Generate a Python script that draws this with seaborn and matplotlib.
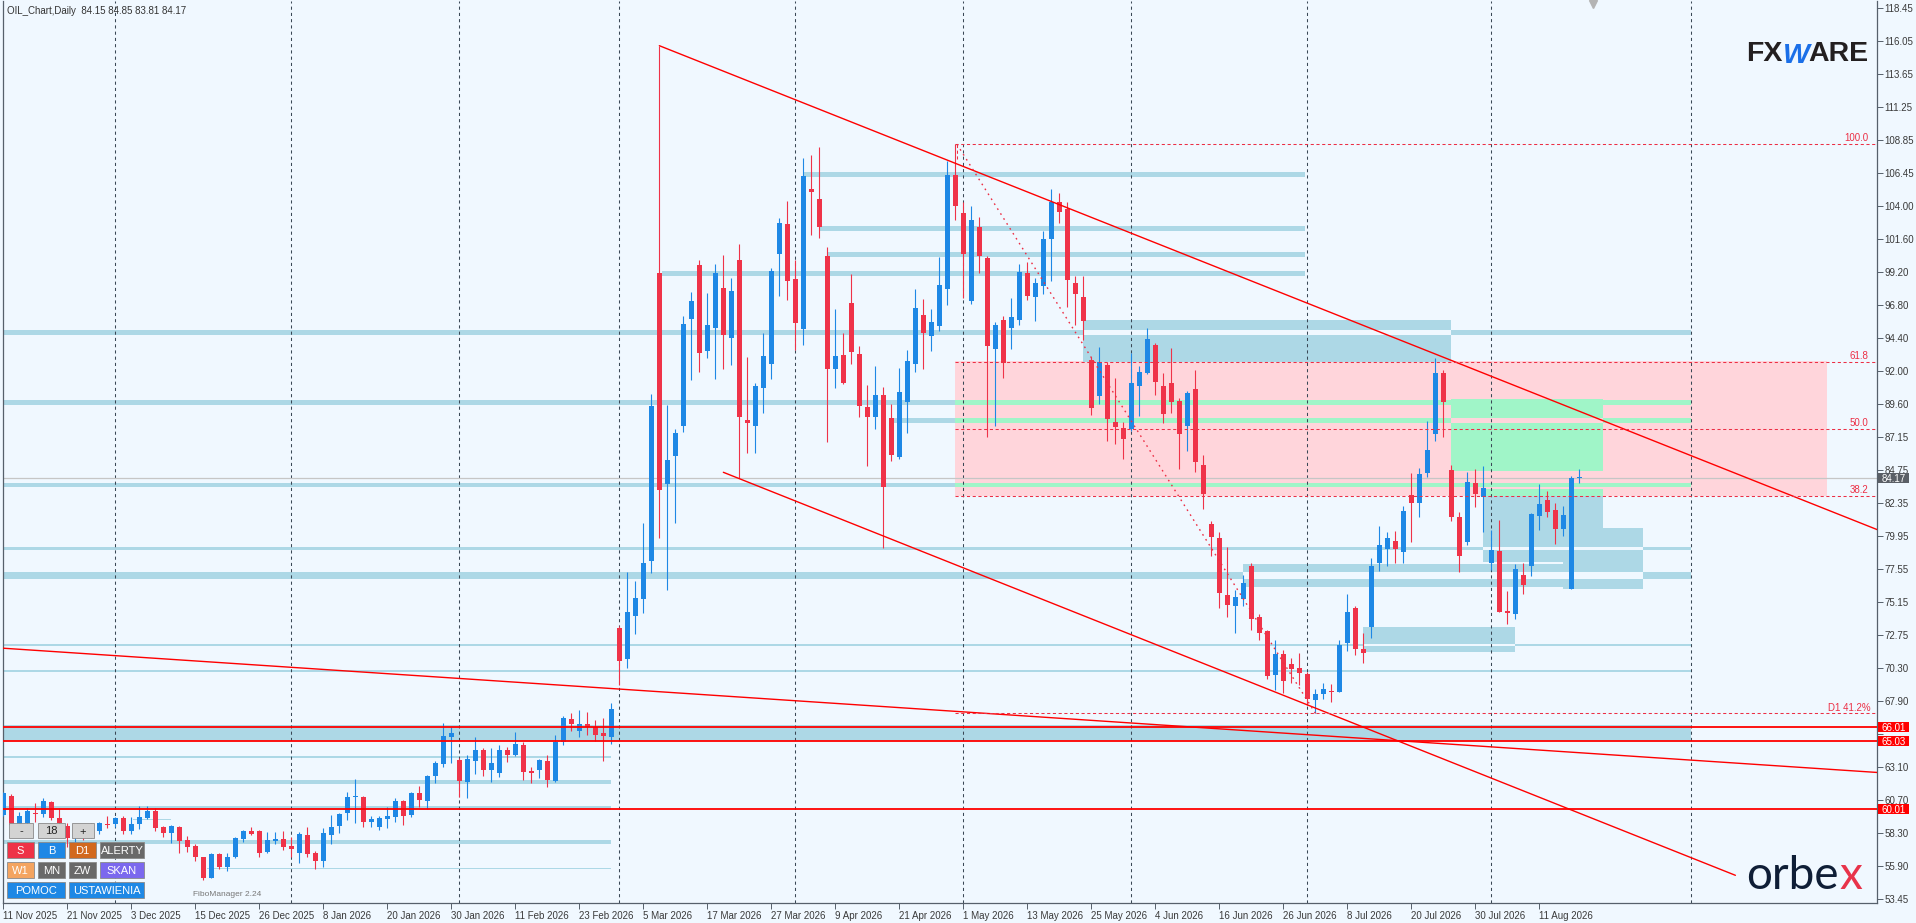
import matplotlib
matplotlib.use("Agg")
import matplotlib.pyplot as plt
import matplotlib.transforms as mtransforms
from matplotlib.patches import Rectangle
import numpy as np
import pandas as pd
import seaborn as sns

BG = "#F0F8FF"
sns.set_style("white", rc={"axes.facecolor": BG, "figure.facecolor": BG})
plt.rcParams['font.family'] = ['Liberation Sans', 'DejaVu Sans']

header = "OIL_Chart,Daily  84.15 84.85 83.81 84.17"

# daily OHLC, one bar per trading day from 11 Nov 2025
opens = [59.60, 60.99, 58.90, 58.99, 59.70, 59.65, 60.55, 59.36, 58.80, 57.90,
         58.40, 58.10, 58.46, 58.97, 58.92, 59.36, 58.46, 58.92, 59.41, 59.92,
         58.70, 58.26, 58.70, 57.78, 57.37, 56.51, 55.03, 56.76, 55.83, 56.54,
         57.88, 58.44, 58.44, 56.93, 57.71, 57.83, 57.34, 56.81, 58.12, 56.81,
         56.27, 58.12, 58.82, 59.72, 60.90, 60.92, 59.12, 58.75, 59.34, 59.48,
         60.62, 59.60, 61.18, 60.65, 62.47, 63.32, 65.32, 63.62, 62.01, 63.57,
         64.34, 62.89, 62.69, 64.34, 63.98, 64.70, 62.83, 62.88, 63.54, 62.08,
         64.95, 66.60, 65.75, 66.24, 65.99, 65.58, 65.31, 73.24, 71.00, 74.14,
         75.38, 78.13, 99.15, 83.73, 85.81, 87.95, 95.77, 99.73, 93.47, 95.15,
         98.04, 94.42, 100.09, 88.41, 87.96, 90.77, 92.52, 100.55, 102.71, 98.70,
         95.05, 105.27, 104.54, 100.40, 92.11, 93.16, 96.97, 93.23, 89.36, 88.66,
         90.24, 88.56, 85.74, 89.75, 92.53, 96.08, 94.57, 95.30, 98.00, 106.30,
         103.50, 97.12, 102.50, 100.24, 93.62, 95.71, 95.15, 95.71, 99.14, 97.42,
         98.22, 101.60, 104.30, 103.80, 98.41, 97.39, 92.79, 90.19, 92.43, 88.27,
         87.81, 87.76, 90.92, 91.87, 93.89, 90.90, 91.12, 89.80, 88.00, 90.68,
         85.13, 80.83, 79.78, 75.65, 74.87, 75.38, 77.76, 74.02, 73.02, 69.81,
         71.34, 70.61, 70.30, 69.88, 67.99, 68.40, 68.64, 68.59, 72.12, 74.67,
         71.71, 73.29, 77.96, 79.00, 79.59, 78.81, 82.94, 82.33, 84.52, 87.37,
         91.82, 84.77, 81.31, 79.49, 83.79, 82.82, 78.01, 78.89, 74.48, 74.26,
         77.11, 77.77, 81.44, 82.58, 81.85, 80.47, 76.09, 84.15]
highs = [61.30, 61.10, 59.80, 60.10, 60.45, 60.84, 60.62, 60.09, 58.99, 58.70,
         58.80, 59.00, 59.12, 59.53, 59.48, 59.53, 59.48, 60.28, 60.26, 60.09,
         58.80, 58.87, 58.80, 58.09, 57.49, 56.56, 56.81, 56.81, 56.81, 58.02,
         58.51, 58.70, 58.51, 58.34, 58.34, 58.44, 58.02, 58.34, 58.75, 57.00,
         58.63, 59.60, 59.72, 61.26, 62.23, 60.99, 59.53, 59.53, 60.21, 60.82,
         60.70, 61.30, 61.74, 62.52, 63.54, 66.29, 66.00, 63.74, 63.98, 65.29,
         64.47, 64.47, 64.69, 64.54, 65.68, 64.95, 63.12, 63.68, 63.97, 65.43,
         66.82, 67.01, 67.26, 67.11, 66.53, 66.67, 67.77, 73.40, 77.32, 76.67,
         80.91, 90.32, 115.72, 89.51, 87.77, 96.03, 97.75, 100.09, 97.66, 99.80,
         100.45, 98.77, 101.25, 93.01, 91.14, 94.76, 99.50, 103.18, 104.39, 100.09,
         107.53, 107.75, 108.33, 101.04, 96.51, 94.76, 99.07, 93.81, 90.97, 92.35,
         90.85, 89.58, 92.21, 93.52, 97.97, 97.25, 96.52, 100.31, 107.30, 108.53,
         104.30, 104.00, 103.20, 100.38, 95.59, 96.00, 97.32, 99.80, 99.94, 98.78,
         102.20, 105.30, 105.00, 104.30, 98.90, 98.92, 93.00, 93.74, 92.67, 91.48,
         88.27, 93.28, 92.36, 95.13, 94.03, 91.85, 93.67, 90.02, 90.53, 92.07,
         85.89, 81.05, 80.22, 79.15, 76.01, 77.11, 77.96, 74.26, 73.09, 72.36,
         71.63, 71.03, 71.39, 70.05, 68.79, 69.20, 69.15, 72.36, 75.69, 74.84,
         72.90, 78.32, 80.68, 80.27, 80.32, 82.14, 84.52, 84.91, 88.34, 92.91,
         92.06, 85.13, 81.73, 84.60, 84.81, 85.06, 80.39, 81.12, 75.94, 77.89,
         77.96, 81.61, 83.72, 83.26, 82.39, 82.14, 84.33, 84.85]
lows = [59.50, 58.60, 58.70, 58.87, 59.12, 59.48, 59.24, 58.87, 57.29, 57.50,
        57.80, 57.90, 58.19, 58.63, 58.75, 58.19, 58.19, 58.61, 59.29, 58.46,
        58.02, 57.54, 56.81, 56.93, 56.25, 54.86, 54.98, 55.69, 55.54, 56.44,
        57.66, 58.14, 56.56, 56.81, 57.46, 57.05, 56.51, 56.12, 56.56, 55.64,
        55.83, 57.46, 58.31, 59.24, 59.04, 58.75, 58.75, 58.51, 58.68, 59.12,
        58.87, 59.48, 60.21, 60.04, 61.91, 63.13, 63.42, 60.94, 60.87, 62.59,
        62.45, 62.03, 62.40, 63.49, 63.91, 62.15, 61.96, 62.32, 61.66, 62.03,
        64.70, 65.75, 65.31, 65.43, 64.99, 63.56, 64.80, 69.08, 70.34, 72.83,
        74.36, 77.27, 79.82, 76.01, 80.91, 87.56, 91.36, 91.94, 92.96, 91.43,
        92.11, 92.43, 84.16, 86.03, 86.03, 88.95, 91.38, 97.48, 97.17, 93.52,
        93.89, 101.91, 101.72, 86.83, 90.77, 91.02, 92.52, 88.66, 85.08, 87.76,
        79.11, 85.45, 85.54, 87.49, 91.92, 92.16, 93.48, 94.93, 96.81, 103.00,
        97.29, 96.86, 99.17, 87.20, 88.00, 91.51, 93.62, 95.35, 97.17, 95.66,
        97.63, 98.58, 102.80, 96.69, 95.35, 94.25, 88.81, 89.58, 86.91, 86.67,
        85.57, 87.64, 88.73, 91.80, 90.24, 88.22, 88.95, 84.87, 86.18, 84.65,
        81.90, 78.52, 74.72, 74.07, 72.85, 74.84, 73.09, 72.36, 69.49, 68.72,
        68.47, 69.20, 69.08, 67.62, 67.01, 68.03, 67.82, 68.59, 71.58, 71.24,
        70.66, 72.48, 77.42, 77.79, 78.01, 77.96, 79.54, 81.31, 84.28, 86.91,
        87.15, 81.07, 77.30, 79.29, 82.04, 80.27, 77.47, 74.43, 73.53, 73.90,
        75.72, 77.04, 80.39, 81.37, 79.37, 79.96, 76.09, 83.81]
closes = [61.18, 58.90, 59.50, 59.89, 59.68, 60.62, 59.36, 59.04, 57.90, 58.40,
          58.10, 58.70, 59.04, 58.85, 59.36, 58.46, 58.95, 59.48, 59.92, 58.68,
          58.26, 58.80, 57.73, 57.29, 56.51, 55.03, 56.76, 55.83, 56.51, 57.92,
          58.44, 58.24, 56.85, 57.78, 57.83, 57.27, 57.15, 58.19, 56.78, 56.27,
          58.26, 58.70, 59.68, 60.92, 60.92, 59.12, 59.29, 59.38, 59.53, 60.62,
          59.55, 61.23, 60.70, 62.45, 63.42, 65.37, 65.61, 62.11, 63.71, 64.34,
          62.89, 63.37, 64.34, 63.98, 64.78, 62.76, 62.68, 63.61, 62.15, 64.95,
          66.67, 66.24, 66.24, 65.99, 65.43, 65.38, 67.33, 70.86, 74.41, 75.43,
          78.00, 89.46, 83.34, 85.50, 87.48, 95.43, 97.10, 93.27, 95.35, 99.14,
          94.62, 97.83, 88.66, 88.17, 90.89, 93.08, 99.26, 102.79, 98.55, 95.52,
          106.22, 105.07, 102.52, 92.11, 93.08, 91.09, 93.40, 89.46, 88.66, 90.24,
          83.56, 85.88, 90.46, 92.72, 96.59, 94.79, 95.57, 98.27, 106.30, 104.00,
          100.53, 103.00, 100.41, 93.84, 95.35, 92.60, 95.93, 99.21, 97.49, 98.41,
          101.60, 104.30, 103.60, 98.63, 97.61, 95.64, 89.32, 92.67, 88.49, 87.93,
          87.06, 91.12, 91.92, 94.33, 91.21, 88.88, 89.75, 87.42, 90.39, 85.33,
          82.99, 79.86, 75.82, 74.92, 75.52, 76.50, 73.92, 72.90, 69.76, 71.34,
          69.40, 70.27, 69.93, 68.03, 68.42, 68.76, 68.55, 72.00, 74.38, 71.68,
          71.44, 77.76, 79.27, 79.78, 78.98, 81.77, 82.38, 84.47, 86.23, 91.82,
          89.70, 81.31, 78.52, 83.87, 82.99, 83.43, 78.93, 74.43, 74.36, 77.55,
          76.38, 81.56, 82.29, 81.73, 80.47, 81.49, 84.21, 84.17]

date_labels = ["11 Nov 2025", "21 Nov 2025", "3 Dec 2025", "15 Dec 2025", "26 Dec 2025",
               "8 Jan 2026", "20 Jan 2026", "30 Jan 2026", "11 Feb 2026", "23 Feb 2026",
               "5 Mar 2026", "17 Mar 2026", "27 Mar 2026", "9 Apr 2026", "21 Apr 2026",
               "1 May 2026", "13 May 2026", "25 May 2026", "4 Jun 2026", "16 Jun 2026",
               "26 Jun 2026", "8 Jul 2026", "20 Jul 2026", "30 Jul 2026", "11 Aug 2026"]
label_step = 8
month_starts = [14, 36, 57, 77, 99, 120, 141, 163, 186, 211]

price_ticks = [118.45, 116.05, 113.65, 111.25, 108.85, 106.45, 104.00, 101.60, 99.20,
               96.80, 94.40, 92.00, 89.60, 87.15, 84.75, 82.35, 79.95, 77.55, 75.15,
               72.75, 70.30, 67.90, 65.50, 63.10, 60.70, 58.30, 55.90, 53.45]
hidden_ticks = [65.50]   # covered by the level boxes in the original

last_price = 84.17
red_levels = [66.01, 65.03, 60.01]

fib_start, fib_end = 119.2, 164
fib_high, fib_low = 108.53, 67.02
fib_ratios = [1.0, 0.618, 0.5, 0.382, 0.0]
fib_names = ["100.0", "61.8", "50.0", "38.2", "D1 41.2%"]

# trend lines: (bar, price) end points
trend_lines = [
    ([82, 234.3], [115.72, 80.40]),
    ([90, 216.5], [84.60, 55.20]),
    ([-0.1, 234.3], [71.77, 62.70]),
]

# zones: start bar, end bar, low, high, kind
zones = [
    (119.0, 228.0, 82.88, 92.72, "pink"),
    (82.3, 162.7, 98.94, 99.28, "blue"),
    (100.0, 162.7, 106.17, 106.51, "blue"),
    (102.0, 162.7, 102.23, 102.57, "blue"),
    (103.0, 162.7, 100.33, 100.65, "blue"),
    (-1.0, 135.0, 94.62, 95.00, "blue"),
    (181.0, 210.9, 94.62, 95.00, "blue"),
    (135.0, 181.0, 94.98, 95.71, "blue"),
    (135.0, 181.0, 92.67, 94.62, "blue"),
    (-1.0, 119.0, 89.51, 89.88, "blue"),
    (119.0, 210.9, 89.51, 89.88, "green"),
    (111.0, 119.0, 88.20, 88.56, "blue"),
    (119.0, 210.9, 88.20, 88.56, "green"),
    (181.0, 200.0, 84.72, 89.93, "green"),
    (181.0, 200.0, 88.20, 88.56, "pink"),
    (-1.0, 119.0, 83.56, 83.84, "blue"),
    (119.0, 210.9, 83.56, 83.84, "green"),
    (185.0, 200.0, 78.08, 83.36, "blue"),
    (185.0, 200.0, 82.88, 83.36, "green"),
    (200.0, 205.0, 76.09, 80.56, "blue"),
    (195.0, 200.0, 76.09, 78.08, "blue"),
    (155.0, 195.0, 76.25, 77.88, "blue"),
    (-1.0, 185.0, 78.90, 79.15, "blue"),
    (185.0, 205.0, 78.90, 79.15, "bg"),
    (205.0, 210.9, 78.90, 79.15, "blue"),
    (-1.0, 155.0, 76.84, 77.32, "blue"),
    (155.0, 205.0, 76.84, 77.32, "bg"),
    (205.0, 210.9, 76.84, 77.32, "blue"),
    (170.0, 189.0, 71.52, 73.34, "blue"),
    (-1.0, 170.0, 71.93, 72.10, "blue"),
    (170.0, 189.0, 71.93, 72.10, "bg"),
    (189.0, 210.9, 71.93, 72.10, "blue"),
    (-1.0, 210.9, 70.04, 70.18, "blue"),
    (-1.0, 210.9, 64.98, 66.15, "blue"),
    (-1.0, 76.0, 63.75, 63.87, "blue"),
    (-1.0, 76.0, 61.85, 62.15, "blue"),
    (-1.0, 76.0, 59.95, 60.22, "blue"),
    (16.2, 21.0, 59.25, 59.33, "blue"),
    (-1.0, 76.0, 57.50, 57.78, "blue"),
    (25.4, 76.0, 55.66, 55.76, "blue"),
]
zone_colors = {"blue": "#ADD8E6", "green": "#A0F5C8", "pink": "#FFD5DB", "bg": BG}

BULL, BEAR = "#1E88E5", "#EF3349"
FIBC = "#EC2F45"

df = pd.DataFrame({"o": opens, "h": highs, "l": lows, "c": closes})
df["x"] = np.arange(len(df))
df["bull"] = df.c >= df.o
df["bottom"] = df[["o", "c"]].min(axis=1)
df["height"] = (df.c - df.o).abs().clip(lower=0.08)
cols = np.where(df.bull, BULL, BEAR)

W, H = 1916, 923
fig = plt.figure(figsize=(W / 100, H / 100), dpi=100)
ax = fig.add_axes([2.7 / W, 1 - 903 / H, (1877 - 2.7) / W, (903 - 1) / H])
XMAX = 234.2
ax.set_xlim(-0.075, XMAX)
ax.set_ylim(53.18, 118.98)

for x0, x1, lo, hi, kind in zones:
    ax.add_patch(Rectangle((x0, lo), x1 - x0, hi - lo, facecolor=zone_colors[kind],
                           edgecolor="none", lw=0, zorder=1))

ax.vlines(month_starts, 53.18, 118.98, colors="#3A4856", linestyles=(0, (3, 3)),
          lw=0.75, zorder=1.5)

ax.axhline(last_price, color="#C6C6C6", lw=0.9, zorder=2)

# candles
ax.vlines(df.x, df.l, df.h, colors=cols, lw=0.8, zorder=3)
ax.bar(df.x, df.height, bottom=df.bottom, width=0.62, color=cols, lw=0, zorder=3.1)

# trend lines
for xs, ys in trend_lines:
    sns.lineplot(x=xs, y=ys, color="#FF0000", lw=1.0, ax=ax, zorder=4)

for lv in red_levels:
    ax.axhline(lv, color="#FF0000", lw=1.3, zorder=4)

# fibonacci
fib_levels = [fib_low + r * (fib_high - fib_low) for r in fib_ratios]
ax.hlines(fib_levels, fib_start - 0.2, XMAX, colors=FIBC, linestyles=(0, (3, 2.5)),
          lw=0.75, zorder=4)
ax.plot([fib_start, fib_end], [fib_high, fib_low], color=FIBC, ls=(0, (1.2, 3)), lw=1.0, zorder=4)
ax.vlines([fib_start], fib_high - 1.1, fib_high, colors=FIBC, linestyles=(0, (3, 2.5)), lw=0.75, zorder=4)
for lv, name in zip(fib_levels, fib_names):
    ax.text(233.4 if name.startswith("D1") else 233.1, lv + 0.42, name, ha="right",
            va="center", fontsize=7, color=FIBC, zorder=5)

# axes styling
for side in ["left", "bottom", "right"]:
    ax.spines[side].set_color("#56606B")
    ax.spines[side].set_linewidth(0.9)
ax.spines["top"].set_visible(False)
ax.grid(False)

ax.set_yticks(price_ticks)
ax.set_yticklabels(["" if v in hidden_ticks else f"{v:.2f}" for v in price_ticks])
ax.tick_params(axis="y", which="both", left=False, right=True, labelleft=False, labelright=True,
               length=4, width=0.7, color="#56606B", labelsize=7, labelcolor="#3a3a3a", pad=1.5)
tick_pos = list(range(0, label_step * len(date_labels), label_step))
ax.set_xticks(tick_pos)
ax.set_xticklabels(date_labels, ha="left")
ax.tick_params(axis="x", bottom=True, length=4, width=0.7, color="#56606B", labelsize=7,
               labelcolor="#3a3a3a", pad=1.5)
ax.set_xlabel("")
ax.set_ylabel("")

# price boxes on the right scale
trans = mtransforms.blended_transform_factory(ax.transAxes, ax.transData)
box_w = 31 / 1874.3
box_h = 0.73
for lv, face in [(last_price, "#5A5F66")] + [(lv, "#FF0000") for lv in red_levels]:
    ax.add_patch(Rectangle((1.0005, lv - box_h / 2), box_w, box_h, transform=trans,
                           facecolor=face, edgecolor="none", clip_on=False, zorder=6))
    ax.text(1.0005 + box_w / 2, lv, f"{lv:.2f}", transform=trans, ha="center",
            va="center_baseline", fontsize=7, color="white", clip_on=False, zorder=7)

# chart shift marker
ax.plot([198.7], [0.997], marker="v", ms=6, color="#B4B4B4",
        transform=mtransforms.blended_transform_factory(ax.transData, ax.transAxes),
        clip_on=False, zorder=6)

# header
fig.text(7 / W, 1 - 10.5 / H, header, ha="left", va="center", fontsize=7, color="#333333")

# logos
fig.text(1746 / W, 1 - 61 / H, "FX", fontsize=20.5, fontweight="bold", color="#231F20", va="baseline")
fig.text(1783 / W, 1 - 63 / H, "W", fontsize=20.5, fontweight="bold", fontstyle="italic",
         color="#1A6FE8", va="baseline")
fig.text(1808 / W, 1 - 61 / H, "ARE", fontsize=20.5, fontweight="bold", color="#231F20", va="baseline")
orbe = fig.text(1746 / W, 1 - 889 / H, "orbe", fontsize=33, family=["Lato", "DejaVu Sans"],
                color="#0F1E36", va="baseline")
renderer = fig.canvas.get_renderer()
ext = orbe.get_window_extent(renderer=renderer)
fig.text((ext.x1 + 0.5) / W, 1 - 889 / H, "x", fontsize=33, family=["Lato", "DejaVu Sans"],
         color="#E8334A", va="baseline")

# button panel
def button(x0, y0, x1, y1, face, label, tcolor="white"):
    fig.add_artist(Rectangle((x0 / W, 1 - y1 / H), (x1 - x0) / W, (y1 - y0) / H,
                             transform=fig.transFigure, facecolor=face, edgecolor="#8A8A8A",
                             lw=0.6, zorder=5))
    fig.text((x0 + x1) / 2 / W, 1 - (y0 + y1) / 2 / H, label, ha="center",
             va="center_baseline", fontsize=8, color=tcolor, zorder=6)

button(9, 823, 33, 838, "#D3D3D3", "-", "#222222")
button(38, 823, 65, 838, "#D3D3D3", "18", "#222222")
button(72, 823, 94, 838, "#D3D3D3", "+", "#222222")
button(7, 842, 34, 858, "#EE3347", "S")
button(38, 842, 65, 858, "#1E88E5", "B")
button(69, 842, 96, 858, "#D2691E", "D1")
button(100, 842, 144, 858, "#696969", "ALERTY")
button(7, 862, 34, 878, "#F4A460", "W1")
button(38, 862, 65, 878, "#696969", "MN")
button(69, 862, 96, 878, "#696969", "ZW")
button(100, 862, 144, 878, "#7B68EE", "SKAN")
button(7, 882, 65, 898, "#1E88E5", "POMOC")
button(69, 882, 144, 898, "#1E88E5", "USTAWIENIA")
fig.text(193 / W, 1 - 894 / H, "FiboManager 2.24", ha="left", va="center", fontsize=6,
         color="#777777", zorder=6)

fig.savefig("out.png", dpi=100, facecolor=BG)
